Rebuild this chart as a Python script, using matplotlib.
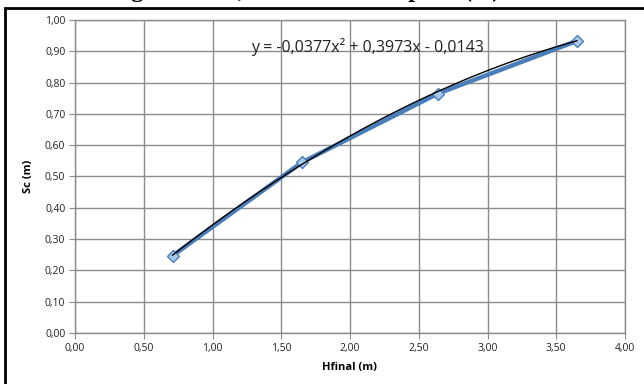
import matplotlib
matplotlib.use("Agg")
import matplotlib.pyplot as plt
import numpy as np
from matplotlib.patches import Rectangle
from matplotlib.ticker import FuncFormatter, MultipleLocator

# Data
hfinal = [0.71, 1.65, 2.64, 3.65]
sc = [0.247, 0.545, 0.765, 0.933]
coef = [-0.0377, 0.3973, -0.0143]
equation = "y = -0,0377x² + 0,3973x - 0,0143"
title = "Regressão Sc, Hfinal x Sc em pilar (m)"
xlabel = "Hfinal (m)"
ylabel = "Sc (m)"

W, H = 644, 384
fig = plt.figure(figsize=(W / 100, H / 100), dpi=100)
fig.patch.set_facecolor("white")

# outer frame (left and top visible)
fig.add_artist(Rectangle((5 / W, -0.1), 1.2, 1 - 8 / H + 0.1, transform=fig.transFigure,
                         fill=False, edgecolor="black", linewidth=2.0))
# truncated title (only its descenders show above the frame)
fig.text(302 / W, 1 + 3.5 / H, title, ha="center", va="baseline",
         family="Liberation Serif", fontweight="bold", fontsize=17.5)

ax = fig.add_axes([75 / W, 1 - 333 / H, 550 / W, 313 / H])
ax.set_xlim(0, 4)
ax.set_ylim(0, 1)
ax.xaxis.set_major_locator(MultipleLocator(0.5))
ax.yaxis.set_major_locator(MultipleLocator(0.1))
fmt = FuncFormatter(lambda v, p: f"{v:.2f}".replace(".", ","))
ax.xaxis.set_major_formatter(fmt)
ax.yaxis.set_major_formatter(fmt)
ax.grid(True, color="#8c8c8c", linewidth=1.0)
ax.set_axisbelow(True)
for s in ax.spines.values():
    s.set_color("#8c8c8c")
    s.set_linewidth(1.0)
ax.tick_params(axis="both", length=4, color="#8c8c8c", labelsize=7.5,
               labelcolor="#222222", pad=3)
for lab in ax.get_xticklabels() + ax.get_yticklabels():
    lab.set_family("Open Sans")

# series
ax.plot(hfinal, sc, color="#4a7ebb", linewidth=3.2, marker="D", markersize=6,
        markerfacecolor="#a8c8ec", markeredgecolor="#4a7ebb", markeredgewidth=1.0,
        zorder=3)
# trendline
xt = np.linspace(min(hfinal), max(hfinal), 200)
yt = np.polyval(coef, xt)
ax.plot(xt, yt, color="black", linewidth=1.0, zorder=4)

ax.text((251 - 75) / 137.5, 1 - (47 - 20) / 313, equation, ha="left", va="center",
        fontsize=11.5, family="Open Sans", color="#222222")

ax.set_xlabel(xlabel, fontsize=8, fontweight="bold", family="Open Sans", labelpad=6)
ax.set_ylabel(ylabel, fontsize=8, fontweight="bold", family="Open Sans", labelpad=8)

fig.savefig("out.png", dpi=100)
